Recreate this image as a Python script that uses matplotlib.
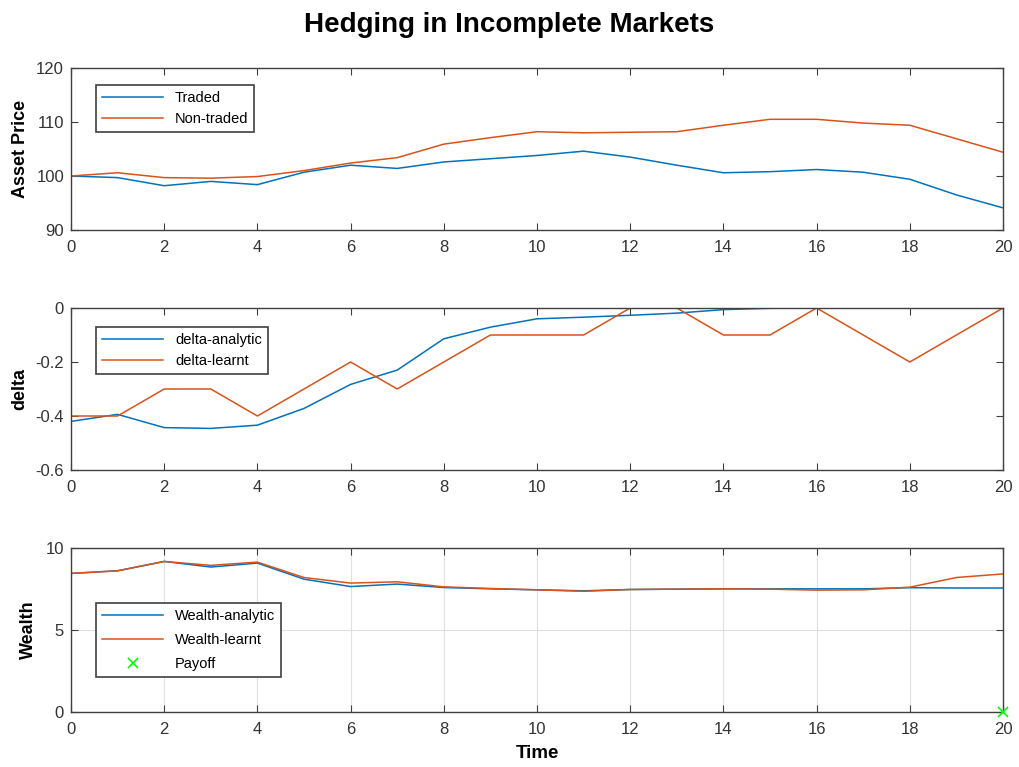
import matplotlib.pyplot as plt

plt.rcParams['font.family'] = ['Liberation Sans', 'DejaVu Sans']

t = list(range(21))

traded = [100, 99.7, 98.2, 99.0, 98.4, 100.7, 102.0, 101.4, 102.6, 103.2, 103.8,
          104.6, 103.5, 102.0, 100.6, 100.8, 101.2, 100.7, 99.4, 96.5, 94.1]
non_traded = [100, 100.6, 99.7, 99.6, 99.9, 101.0, 102.4, 103.4, 105.9, 107.1, 108.2,
              108.0, 108.1, 108.2, 109.4, 110.5, 110.5, 109.8, 109.4, 106.9, 104.4]

delta_analytic = [-0.42, -0.394, -0.443, -0.446, -0.434, -0.372, -0.283, -0.23, -0.114, -0.071, -0.04,
                  -0.034, -0.027, -0.019, -0.006, -0.001, 0, 0, 0, 0, 0]
delta_learnt = [-0.4, -0.4, -0.3, -0.3, -0.4, -0.3, -0.2, -0.3, -0.2, -0.1, -0.1,
                -0.1, 0, 0, -0.1, -0.1, 0, -0.1, -0.2, -0.1, 0]

wealth_analytic = [8.45, 8.61, 9.18, 8.84, 9.08, 8.1, 7.65, 7.8, 7.59, 7.51, 7.45,
                   7.39, 7.47, 7.49, 7.51, 7.51, 7.51, 7.51, 7.58, 7.56, 7.56]
wealth_learnt = [8.45, 8.61, 9.18, 8.94, 9.14, 8.2, 7.86, 7.94, 7.63, 7.53, 7.45,
                 7.36, 7.47, 7.49, 7.51, 7.49, 7.43, 7.45, 7.61, 8.2, 8.42]
payoff_t = [20]
payoff = [0]

blue = '#0072BD'
red = '#D95319'
edge = '#404040'

fig = plt.figure(figsize=(10.19, 7.67), dpi=100)
left, width = 71 / 1019, 932 / 1019
ax1 = fig.add_axes([left, 1 - 230 / 767, width, 162 / 767])
ax2 = fig.add_axes([left, 1 - 470 / 767, width, 162 / 767])
ax3 = fig.add_axes([left, 1 - 712 / 767, width, 164 / 767])


def style(ax):
    for s in ax.spines.values():
        s.set_color(edge)
        s.set_linewidth(1.0)
    ax.tick_params(direction='in', top=True, right=True, length=5,
                   color=edge, labelsize=12, labelcolor='#333333')
    ax.tick_params(axis='x', pad=7)
    ax.tick_params(axis='y', pad=5)
    ax.set_xlim(0, 20)
    ax.set_xticks(range(0, 21, 2))


def legend(ax, y, **kw):
    leg = ax.legend(loc='upper left', bbox_to_anchor=(0.027, y), borderaxespad=0,
                    fancybox=False, edgecolor=edge, fontsize=10.5, handlelength=4.2,
                    framealpha=1, **kw)
    leg.get_frame().set_linewidth(1.2)


ax1.plot(t, traded, color=blue, lw=1.1, label='Traded')
ax1.plot(t, non_traded, color=red, lw=1.1, label='Non-traded')
ax1.set_ylim(90, 120)
ax1.set_yticks([90, 100, 110, 120])
ax1.set_ylabel('Asset Price', fontsize=13, fontweight='bold', labelpad=5)
style(ax1)
legend(ax1, 0.895)

ax2.plot(t, delta_analytic, color=blue, lw=1.1, label='delta-analytic')
ax2.plot(t, delta_learnt, color=red, lw=1.1, label='delta-learnt')
ax2.set_ylim(-0.6, 0)
ax2.set_yticks([-0.6, -0.4, -0.2, 0])
ax2.set_yticklabels(['-0.6', '-0.4', '-0.2', '0'])
ax2.set_ylabel('delta', fontsize=13, fontweight='bold', labelpad=5)
style(ax2)
legend(ax2, 0.883)

ax3.plot(t, wealth_analytic, color=blue, lw=1.1, label='Wealth-analytic')
ax3.plot(t, wealth_learnt, color=red, lw=1.1, label='Wealth-learnt')
ax3.plot(payoff_t, payoff, 'x', color='#00ff00', ms=7, mew=1.2, clip_on=False,
         linestyle='none', label='Payoff', zorder=5)
ax3.set_ylim(0, 10)
ax3.set_yticks([0, 5, 10])
ax3.grid(True, color='#e0e0e0', lw=0.8)
ax3.set_axisbelow(True)
ax3.set_ylabel('Wealth', fontsize=13, fontweight='bold', labelpad=6)
ax3.set_xlabel('Time', fontsize=13.5, fontweight='bold', labelpad=6)
style(ax3)
legend(ax3, 0.665, labelspacing=0.7)

fig.text(0.5, 1 - 25 / 767, 'Hedging in Incomplete Markets', fontsize=20,
         fontweight='bold', ha='center', va='center')

fig.savefig('out.png', dpi=100)
